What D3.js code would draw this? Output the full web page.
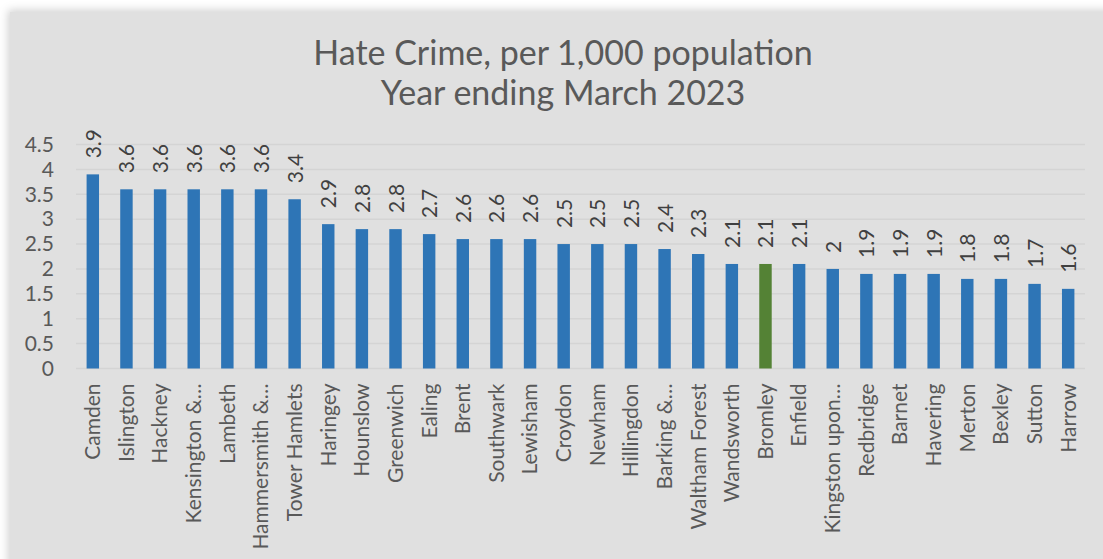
<!DOCTYPE html>
<html>
<head>
<meta charset="utf-8">
<script src="https://cdn.jsdelivr.net/npm/d3@7"></script>
<style>
  body { margin: 0; background: #ffffff; }
  svg { display: block; }
  text { font-family: Lato, "Open Sans", sans-serif; }
</style>
</head>
<body>
<div id="chart"></div>
<script>
var boroughs = ["Camden", "Islington", "Hackney", "Kensington &\u2026", "Lambeth", "Hammersmith &\u2026",
    "Tower Hamlets", "Haringey", "Hounslow", "Greenwich", "Ealing", "Brent", "Southwark", "Lewisham",
    "Croydon", "Newham", "Hillingdon", "Barking &\u2026", "Waltham Forest", "Wandsworth", "Bromley",
    "Enfield", "Kingston upon\u2026", "Redbridge", "Barnet", "Havering", "Merton", "Bexley", "Sutton", "Harrow"];
var rates = [3.9, 3.6, 3.6, 3.6, 3.6, 3.6, 3.4, 2.9, 2.8, 2.8, 2.7, 2.6, 2.6, 2.6, 2.5, 2.5, 2.5, 2.4,
    2.3, 2.1, 2.1, 2.1, 2, 1.9, 1.9, 1.9, 1.8, 1.8, 1.7, 1.6];
var highlight = ["Bromley"];
var yTicks = [0, 0.5, 1, 1.5, 2, 2.5, 3, 3.5, 4, 4.5];
var titleLines = ["Hate Crime, per 1,000 population", "Year ending March 2023"];

var width = 1103, height = 559;
var plotLeft = 76, plotRight = 1085, plotTop = 144.5, plotBottom = 368.5;

var svg = d3.select("#chart").append("svg")
    .attr("width", width)
    .attr("height", height);

// soft shadow on the top and left edges of the chart area
var defs = svg.append("defs");
var shadow = defs.append("filter")
    .attr("id", "edge-shadow")
    .attr("x", "-10%").attr("y", "-10%")
    .attr("width", "120%").attr("height", "120%");
shadow.append("feDropShadow")
    .attr("dx", -2).attr("dy", -2)
    .attr("stdDeviation", 4)
    .attr("flood-color", "#000")
    .attr("flood-opacity", 0.18);

svg.append("rect")
    .attr("x", 10).attr("y", 12)
    .attr("width", width + 20).attr("height", height + 20)
    .style("fill", "#e0e0e0")
    .style("filter", "url(#edge-shadow)");

var x = d3.scaleBand()
    .domain(boroughs)
    .range([plotLeft, plotRight])
    .paddingInner(0.63)
    .paddingOuter(0.315);

var y = d3.scaleLinear()
    .domain([0, 4.5])
    .range([plotBottom, plotTop]);

// gridlines
svg.append("g")
    .selectAll("line")
    .data(yTicks)
    .join("line")
    .attr("x1", plotLeft)
    .attr("x2", plotRight)
    .attr("y1", function(d) { return y(d); })
    .attr("y2", function(d) { return y(d); })
    .style("stroke", "#d4d4d4")
    .style("stroke-width", 1.5);

// y axis labels
var yAxis = svg.append("g")
    .attr("transform", "translate(" + (plotLeft - 22) + ",0)")
    .call(d3.axisLeft(y).tickValues(yTicks).tickSize(0).tickPadding(0).tickFormat(d3.format("")));
yAxis.select(".domain").remove();
yAxis.selectAll("text")
    .style("font-family", "Lato, 'Open Sans', sans-serif")
    .style("font-size", "21px")
    .style("fill", "#595959");

// bars
svg.append("g")
    .selectAll("rect")
    .data(rates)
    .join("rect")
    .attr("x", function(d, i) { return x(boroughs[i]); })
    .attr("y", function(d) { return y(d); })
    .attr("width", x.bandwidth())
    .attr("height", function(d) { return y(0) - y(d); })
    .style("fill", function(d, i) { return highlight.indexOf(boroughs[i]) >= 0 ? "#548235" : "#2e75b6"; });

// value labels, rotated
svg.append("g")
    .selectAll("text")
    .data(rates)
    .join("text")
    .attr("transform", function(d, i) {
        var cx = x(boroughs[i]) + x.bandwidth() / 2;
        return "translate(" + (cx + 8) + "," + (y(d) - 16) + ") rotate(-90)";
    })
    .attr("text-anchor", "start")
    .text(function(d) { return d; })
    .style("font-size", "21px")
    .style("fill", "#404040");

// category labels, rotated
var xAxis = svg.append("g")
    .attr("transform", "translate(0," + (plotBottom + 15) + ")")
    .call(d3.axisBottom(x).tickSize(0).tickPadding(0));
xAxis.select(".domain").remove();
xAxis.selectAll("text")
    .attr("transform", "rotate(-90)")
    .attr("x", 0)
    .attr("y", 0)
    .attr("dx", 0)
    .attr("dy", "0.35em")
    .attr("text-anchor", "end")
    .style("font-family", "Lato, 'Open Sans', sans-serif")
    .style("font-size", "21px")
    .style("fill", "#595959");

// title
svg.append("g")
    .selectAll("text")
    .data(titleLines)
    .join("text")
    .attr("x", 563)
    .attr("y", function(d, i) { return 65 + i * 40; })
    .attr("text-anchor", "middle")
    .text(function(d) { return d; })
    .style("font-size", "34px")
    .style("fill", "#595959");
</script>
</body>
</html>
